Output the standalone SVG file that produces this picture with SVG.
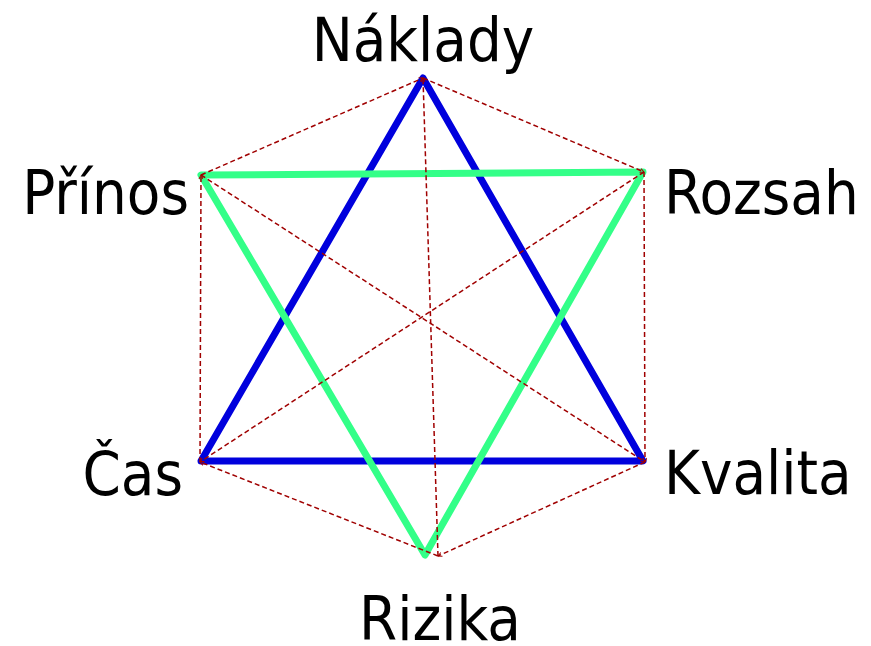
<svg xmlns="http://www.w3.org/2000/svg" width="871" height="646" viewBox="0 0 871 646">
<defs>
<marker id="ah" viewBox="0 0 10 10" refX="9" refY="5" markerWidth="5" markerHeight="5" orient="auto" markerUnits="userSpaceOnUse">
<path d="M1,1 L9,5 L1,9" fill="none" stroke="#a00000" stroke-width="2"/>
</marker>
<style>
.lbl{font-family:"DejaVu Sans Condensed","DejaVu Sans",sans-serif;font-size:61px;fill:#000}
.blue{fill:none;stroke:#0000dd;stroke-width:7;stroke-linejoin:round;stroke-linecap:round}
.green{fill:none;stroke:#33ff88;stroke-width:7;stroke-linejoin:round;stroke-linecap:round}
.dash{fill:none;stroke:#a00000;stroke-width:1.5;stroke-dasharray:5,3;marker-end:url(#ah)}
</style>
</defs>
<rect width="871" height="646" fill="#fff"/>
<g id="triangles">
<polygon class="blue" points="423,78 643,461 201,461"/>
<polygon class="green" points="201,175 643,172 425,555"/>
</g>
<g id="connectors">
<line class="dash" x1="201" y1="175" x2="423" y2="78"/>
<line class="dash" x1="423" y1="78" x2="644" y2="172"/>
<line class="dash" x1="644" y1="172" x2="645" y2="462"/>
<line class="dash" x1="645" y1="462" x2="438" y2="556"/>
<line class="dash" x1="438" y1="556" x2="200" y2="462"/>
<line class="dash" x1="200" y1="462" x2="201" y2="175"/>
<line class="dash" x1="438" y1="556" x2="423" y2="78"/>
<line class="dash" x1="201" y1="175" x2="645" y2="462"/>
<line class="dash" x1="644" y1="172" x2="200" y2="462"/>
</g>
<g id="naklady"><text class="lbl" x="423" y="61" text-anchor="middle">Náklady</text></g>
<g id="prinos"><text class="lbl" x="189" y="214" text-anchor="end">Přínos</text></g>
<g id="rozsah"><text class="lbl" x="664" y="214">Rozsah</text></g>
<g id="cas"><text class="lbl" x="183" y="495" text-anchor="end">Čas</text></g>
<g id="kvalita"><text class="lbl" x="664" y="494">Kvalita</text></g>
<g id="rizika"><text class="lbl" x="440" y="640" text-anchor="middle">Rizika</text></g>
</svg>
